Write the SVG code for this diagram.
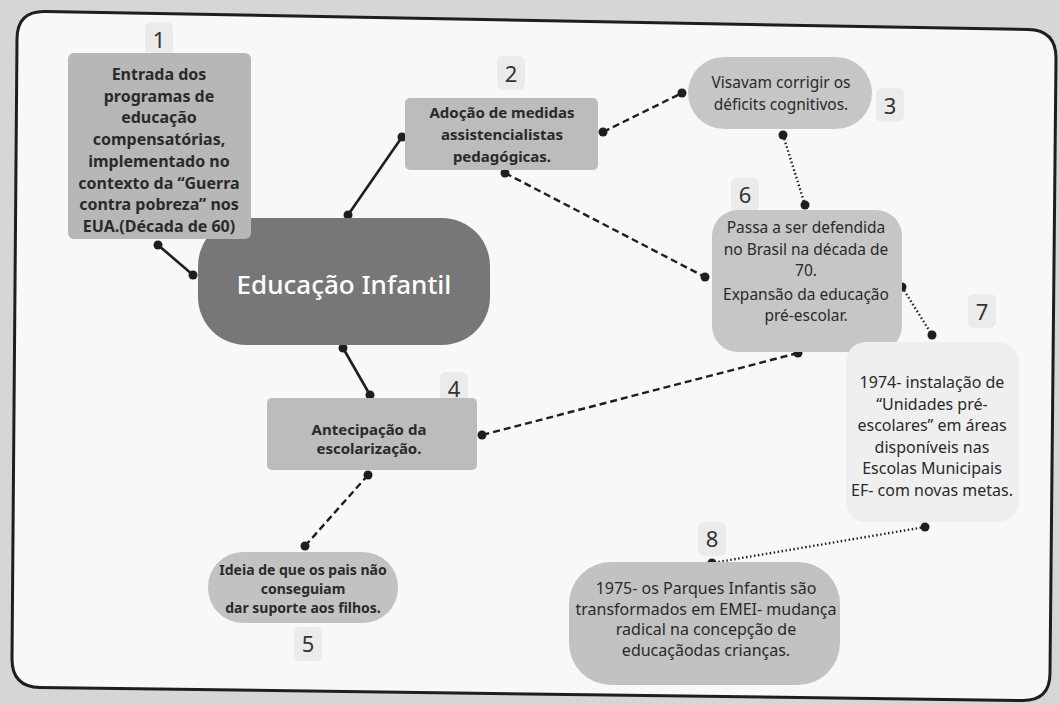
<svg xmlns="http://www.w3.org/2000/svg" width="1060" height="705" viewBox="0 0 1060 705">
<style>
.t{font-family:"Noto Sans","Liberation Sans",sans-serif;fill:#2a2a2a;text-anchor:middle}
.b{font-weight:bold}
.num{font-family:"Noto Sans","Liberation Sans",sans-serif;font-size:22px;fill:#333;text-anchor:middle}
.badge{fill:#ebebeb}
.solid{stroke:#1e1e1e;stroke-width:2.6;fill:none}
.dash{stroke:#1e1e1e;stroke-width:2.4;fill:none;stroke-dasharray:7 4}
.dot{stroke:#1e1e1e;stroke-width:2.4;fill:none;stroke-dasharray:1.5 2.5}
.pt{fill:#1e1e1e}
</style>
<rect width="1060" height="705" fill="#d6d6d6"/>
<path d="M17,39 Q17,11 45,11.5 L1028,29.5 Q1056,30 1056,58 L1050,673 Q1050,701 1022,700.5 L40,687.5 Q12,687 12,659 Z" fill="#f8f8f8" stroke="#1e1e1e" stroke-width="3"/>

<g id="connectors">
<line class="solid" x1="158" y1="245" x2="193" y2="275"/>
<line class="solid" x1="348" y1="215" x2="402" y2="137"/>
<line class="solid" x1="343" y1="348" x2="370" y2="395"/>
<line class="dash" x1="603" y1="132" x2="682" y2="93"/>
<line class="dash" x1="505" y1="173" x2="705" y2="277"/>
<line class="dot" x1="783" y1="135" x2="805" y2="205"/>
<line class="dot" x1="902" y1="287" x2="932" y2="335"/>
<line class="dash" x1="798" y1="353" x2="482" y2="435"/>
<line class="dash" x1="368" y1="475" x2="305" y2="546"/>
<line class="dot" x1="925" y1="527" x2="712" y2="563"/>
<g>
<circle class="pt" cx="158" cy="245" r="4.5"/><circle class="pt" cx="193" cy="275" r="4.5"/>
<circle class="pt" cx="348" cy="215" r="4.5"/><circle class="pt" cx="402" cy="137" r="4.5"/>
<circle class="pt" cx="343" cy="348" r="4.5"/><circle class="pt" cx="370" cy="395" r="4.5"/>
<circle class="pt" cx="603" cy="132" r="4.5"/><circle class="pt" cx="682" cy="93" r="4.5"/>
<circle class="pt" cx="505" cy="173" r="4.5"/><circle class="pt" cx="705" cy="277" r="4.5"/>
<circle class="pt" cx="783" cy="135" r="4.5"/><circle class="pt" cx="805" cy="205" r="4.5"/>
<circle class="pt" cx="902" cy="287" r="4.5"/><circle class="pt" cx="932" cy="335" r="4.5"/>
<circle class="pt" cx="798" cy="353" r="4.5"/><circle class="pt" cx="482" cy="435" r="4.5"/>
<circle class="pt" cx="368" cy="475" r="4.5"/><circle class="pt" cx="305" cy="546" r="4.5"/>
<circle class="pt" cx="925" cy="527" r="4.5"/><circle class="pt" cx="712" cy="563" r="4.5"/>
</g>
</g>

<g id="center">
<rect x="198" y="218" width="292" height="127" rx="48" fill="#777777"/>
<text x="344" y="294" font-family="'Noto Sans','Liberation Sans',sans-serif" font-size="26" font-weight="500" fill="#ffffff" text-anchor="middle">Educação Infantil</text>
</g>

<g id="node1" font-size="16">
<rect class="badge" x="145" y="22" width="28" height="34" rx="6"/>
<text class="num" x="159" y="48">1</text>
<rect x="68" y="53" width="183" height="186" rx="6" fill="#b7b7b7"/>
<text class="t b" x="159" y="80">Entrada dos</text>
<text class="t b" x="159" y="102">programas de</text>
<text class="t b" x="159" y="123">educação</text>
<text class="t b" x="159" y="145">compensatórias,</text>
<text class="t b" x="159" y="167">implementado no</text>
<text class="t b" x="159" y="189">contexto da “Guerra</text>
<text class="t b" x="159" y="210">contra pobreza” nos</text>
<text class="t b" x="159" y="232">EUA.(Década de 60)</text>
</g>

<g id="node2" font-size="15">
<rect class="badge" x="497" y="56" width="28" height="34" rx="6"/>
<text class="num" x="511" y="82">2</text>
<rect x="405" y="98" width="193" height="72" rx="5" fill="#bcbcbc"/>
<text class="t b" x="502" y="118">Adoção de medidas</text>
<text class="t b" x="502" y="140">assistencialistas</text>
<text class="t b" x="502" y="162">pedagógicas.</text>
</g>

<g id="node3" font-size="15.5">
<rect x="688" y="57" width="184" height="72" rx="36" fill="#c6c6c6"/>
<text class="t" x="781" y="88">Visavam corrigir os</text>
<text class="t" x="781" y="110">déficits cognitivos.</text>
<rect class="badge" x="876" y="88" width="28" height="34" rx="6"/>
<text class="num" x="890" y="114">3</text>
</g>

<g id="node6" font-size="15.5">
<rect class="badge" x="731" y="178" width="28" height="34" rx="6"/>
<text class="num" x="745" y="203">6</text>
<rect x="712" y="210" width="190" height="142" rx="26" fill="#c6c6c6"/>
<text class="t" x="806" y="233">Passa a ser defendida</text>
<text class="t" x="806" y="255">no Brasil na década de</text>
<text class="t" x="806" y="276">70.</text>
<text class="t" x="806" y="300">Expansão da educação</text>
<text class="t" x="806" y="321">pré-escolar.</text>
</g>

<g id="node7" font-size="16">
<rect class="badge" x="968" y="294" width="28" height="34" rx="6"/>
<text class="num" x="982" y="320">7</text>
<rect x="846" y="342" width="173" height="180" rx="20" fill="#efefef"/>
<text class="t" x="932" y="388">1974- instalação de</text>
<text class="t" x="932" y="410">“Unidades pré-</text>
<text class="t" x="932" y="431">escolares” em áreas</text>
<text class="t" x="932" y="453">disponíveis nas</text>
<text class="t" x="932" y="474">Escolas Municipais</text>
<text class="t" x="932" y="496">EF- com novas metas.</text>
</g>

<g id="node4" font-size="15">
<rect class="badge" x="440" y="372" width="28" height="34" rx="6"/>
<text class="num" x="454" y="397">4</text>
<rect x="267" y="398" width="210" height="72" rx="5" fill="#bcbcbc"/>
<text class="t b" x="369" y="435">Antecipação da</text>
<text class="t b" x="369" y="454">escolarização.</text>
</g>

<g id="node5" font-size="14">
<rect x="208" y="552" width="190" height="71" rx="35" fill="#c2c2c2"/>
<text class="t b" x="303" y="575">Ideia de que os pais não</text>
<text class="t b" x="303" y="594">conseguiam</text>
<text class="t b" x="303" y="613">dar suporte aos filhos.</text>
<rect class="badge" x="294" y="627" width="28" height="34" rx="6"/>
<text class="num" x="308" y="652">5</text>
</g>

<g id="node8" font-size="16">
<rect class="badge" x="698" y="522" width="28" height="34" rx="6"/>
<text class="num" x="712" y="547">8</text>
<rect x="569" y="562" width="271" height="123" rx="42" fill="#c2c2c2"/>
<text class="t" x="706" y="594">1975- os Parques Infantis são</text>
<text class="t" x="706" y="615">transformados em EMEI- mudança</text>
<text class="t" x="706" y="635">radical na concepção de</text>
<text class="t" x="706" y="656">educaçãodas crianças.</text>
</g>
</svg>
